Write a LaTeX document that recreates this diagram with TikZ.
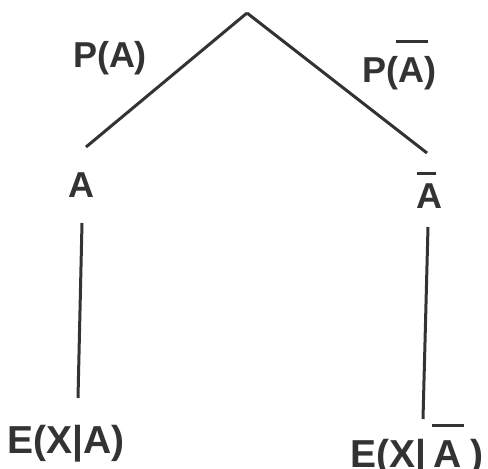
\documentclass[tikz,border=0pt]{standalone}
\usepackage{fontspec}
\setmainfont{Liberation Sans}
\definecolor{ink}{HTML}{333333}
\newcommand{\barover}[4]{% #1 shift, #2 width, #3 raise, #4 letter
  \makebox[0pt][l]{\hspace*{#1}\raisebox{#3}{\rule{#2}{3pt}}}#4}
\begin{document}
\begin{tikzpicture}[x=1pt,y=-1pt,
  lbl/.style={text=ink,font=\bfseries\fontsize{36}{40}\selectfont,inner sep=0pt,anchor=base},
  elbl/.style={lbl,font=\bfseries\fontsize{39}{44}\selectfont},
  edge/.style={draw=ink,line width=3pt}]
\useasboundingbox[fill=white] (0,0) rectangle (488,469);
\coordinate (top) at (247,13);
\coordinate (aT) at (86,147);
\coordinate (bT) at (427,153);
\coordinate (aV1) at (82,223);
\coordinate (aV2) at (78,398);
\coordinate (bV1) at (428,227);
\coordinate (bV2) at (423,419);
\node[lbl] (pa) at (110,67) {P(A)};
\node[lbl] (pb) at (399,82) {P(\barover{-2pt}{32pt}{39pt}{A})};
\node[lbl] (na) at (81,197) {A};
\node[lbl] (nb) at (429,208) {\barover{1pt}{19pt}{33pt}{A}};
\node[elbl] (ea) at (66,453) {E(X|A)};
\node[elbl] (eb) at (417,467) {E(X|\hspace{0.2em}\barover{-2pt}{32pt}{40pt}{A}\hspace{0.22em})};
\draw[edge] (top) -- (aT);
\draw[edge] (top) -- (bT);
\draw[edge] (aV1) -- (aV2);
\draw[edge] (bV1) -- (bV2);
\end{tikzpicture}
\end{document}
